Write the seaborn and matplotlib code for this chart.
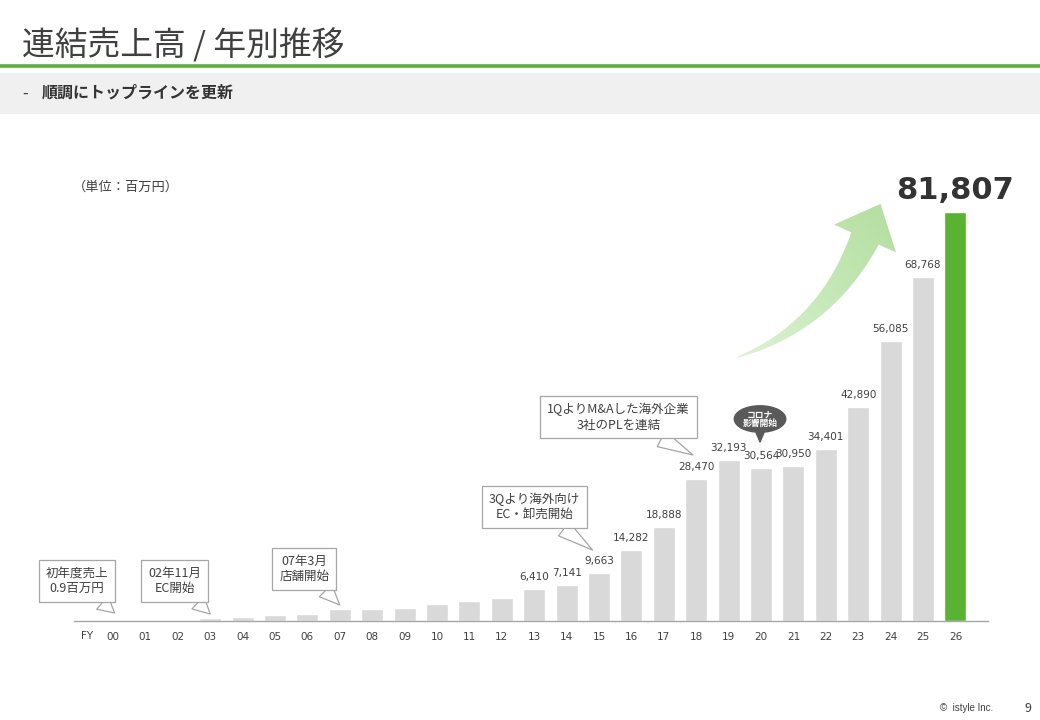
import numpy as np
import pandas as pd
import matplotlib
matplotlib.use("Agg")
import matplotlib.pyplot as plt
import seaborn as sns
from matplotlib.patches import Polygon, Rectangle
from matplotlib.colors import LinearSegmentedColormap

# data (百万円)
fiscal_years = ["00", "01", "02", "03", "04", "05", "06", "07", "08", "09",
                "10", "11", "12", "13", "14", "15", "16", "17", "18", "19",
                "20", "21", "22", "23", "24", "25", "26"]
sales = [0.9, 200, 250, 550, 800, 1200, 1400, 2400, 2450, 2600,
         3400, 4000, 4600, 6410, 7141, 9663, 14282, 18888, 28470, 32193,
         30564, 30950, 34401, 42890, 56085, 68768, 81807]
labeled_from = "13"

callout_texts = ["初年度売上\n0.9百万円", "02年11月\nEC開始", "07年3月\n店舗開始",
                 "3Qより海外向け\nEC・卸売開始", "1QよりM&Aした海外企業\n3社のPLを連結"]
callout_years = ["00", "03", "07", "15", "18"]

sns.set_theme(style="white")
plt.rcParams["font.family"] = ["Noto Sans CJK JP", "DejaVu Sans"]

GRAY = "#d9d9d9"
GREEN = "#5ab232"
TXT = "#404040"

df = pd.DataFrame({"fy": fiscal_years, "sales": sales})
colors = [GRAY] * (len(fiscal_years) - 1) + [GREEN]

fig = plt.figure(figsize=(10.4, 7.2), dpi=100)

# overlay in pixel coords for the slide decoration
ov = fig.add_axes([0, 0, 1, 1])
ov.set_xlim(0, 1040)
ov.set_ylim(720, 0)
ov.axis("off")
ov.add_patch(Rectangle((0, 73), 1040, 40, color="#f0f0f0", zorder=0))
ov.plot([0, 1040], [65.5, 65.5], color="#62ac47", lw=2.6)
ov.text(22, 45, "連結売上高 / 年別推移", fontsize=23.6, color=TXT, va="center")
ov.text(22, 93, "-", fontsize=11.5, color=TXT, va="center")
ov.text(42, 93, "順調にトップラインを更新", fontsize=11.5, fontweight="bold",
        color="#333333", va="center")
ov.text(73, 187, "（単位：百万円）", fontsize=9.5, color=TXT, va="center")
ov.text(940, 708, "©  istyle Inc.", fontsize=7, color=TXT, va="center",
        family="Liberation Sans")
ov.text(1028, 708, "9", fontsize=9, color=TXT, va="center", ha="center")

# growth arrow: tapered curved body + head, filled with a soft gradient
p0, p1, p2 = np.array([738, 357]), np.array([825.7, 326.3]), np.array([865, 238.5])
u = np.linspace(0, 1, 80)[:, None]
pts = (1 - u) ** 2 * p0 + 2 * u * (1 - u) * p1 + u ** 2 * p2
der = 2 * (1 - u) * (p1 - p0) + 2 * u * (p2 - p1)
der = der / np.linalg.norm(der, axis=1, keepdims=True)
nrm = np.column_stack([-der[:, 1], der[:, 0]])
w = (1.5 + 28.5 * u ** 1.1) / 2
left, right = pts + nrm * w, pts - nrm * w
t_end, n_end = der[-1], nrm[-1]
head = [p2 + n_end * 34, p2 + t_end * 38, p2 - n_end * 34]
shape = np.vstack([left, head, right[::-1]])
poly = Polygon(shape, closed=True, fc="none", ec="none")
ov.add_patch(poly)
gx, gy = np.meshgrid(np.linspace(725, 910, 200), np.linspace(195, 370, 200))
grad = ((gx - 738) - (gy - 357)) / ((880 - 738) + (357 - 205))
cmap = LinearSegmentedColormap.from_list("g", ["#def2d5", "#c6e9b8", "#b6dfa2"])
img = ov.imshow(grad, extent=(725, 910, 370, 195), cmap=cmap, vmin=0, vmax=1,
                origin="upper", aspect="auto", zorder=2)
img.set_clip_path(poly)
ov.set_xlim(0, 1040)
ov.set_ylim(720, 0)

ax = fig.add_axes([74.1 / 1040, 99 / 720, 913.7 / 1040, 500 / 720])
sns.barplot(data=df, x="fy", y="sales", hue="fy", palette=colors,
            legend=False, width=0.68, saturation=1, ax=ax)
ax.set_xlim(-1.2, 27.0)
ax.set_ylim(0, 100000)
ax.set_xlabel("")
ax.set_ylabel("")
ax.set_yticks([])
ax.patch.set_alpha(0)
for s in ["top", "left", "right"]:
    ax.spines[s].set_visible(False)
ax.spines["bottom"].set_color("#a6a6a6")
ax.spines["bottom"].set_linewidth(1)
ax.tick_params(axis="x", length=0, pad=8, labelsize=7.5, labelcolor=TXT)
for lab in ax.get_xticklabels():
    lab.set_family("DejaVu Sans")
ax.text(-0.8, -0.03, "FY", transform=ax.get_xaxis_transform(), fontsize=7.5,
        color=TXT, ha="center", va="center", family="DejaVu Sans")

# value labels
start = fiscal_years.index(labeled_from)
for i in range(start, len(sales) - 1):
    ax.text(i, sales[i] + 1400, f"{sales[i]:,}", ha="center", va="bottom",
            fontsize=7.5, color=TXT, family="DejaVu Sans")
ax.text(len(sales) - 1, sales[-1] + 1400, f"{sales[-1]:,}", ha="center",
        va="bottom", fontsize=22, fontweight="bold", color="#333333",
        family="DejaVu Sans")

# callouts (text position, pointer offset)
callout_pos = [(-1.11, 8000, 0.05, 1600), (1.91, 8000, 0.0, 1400),
               (5.9, 10400, 0.0, 3200), (13.0, 22800, -0.2, 14200),
               (15.6, 40800, -0.1, 33200)]
for txt, yr, (tx, ty, dx, ty2) in zip(callout_texts, callout_years, callout_pos):
    i = fiscal_years.index(yr)
    ax.annotate(txt, xy=(i + dx, ty2), xytext=(tx, ty), ha="center",
                va="center", fontsize=9, color=TXT, linespacing=1.25,
                bbox=dict(boxstyle="square,pad=0.55", fc="white", ec="#a6a6a6", lw=0.9),
                arrowprops=dict(arrowstyle="wedge,tail_width=1.4,shrink_factor=0.5",
                                fc="white", ec="#a6a6a6", lw=0.9,
                                shrinkA=0, shrinkB=0))

# corona bubble
ax.annotate("コロナ\n影響開始", xy=(19.97, 35800), xytext=(19.97, 40400),
            ha="center", va="center", fontsize=6.3, fontweight="bold",
            color="white", linespacing=0.9,
            bbox=dict(boxstyle="ellipse,pad=0.08", fc="#595959", ec="#595959"),
            arrowprops=dict(arrowstyle="wedge,tail_width=0.9,shrink_factor=0.5",
                            fc="#595959", ec="#595959", shrinkA=0, shrinkB=0))

fig.savefig("out.png", dpi=100)
